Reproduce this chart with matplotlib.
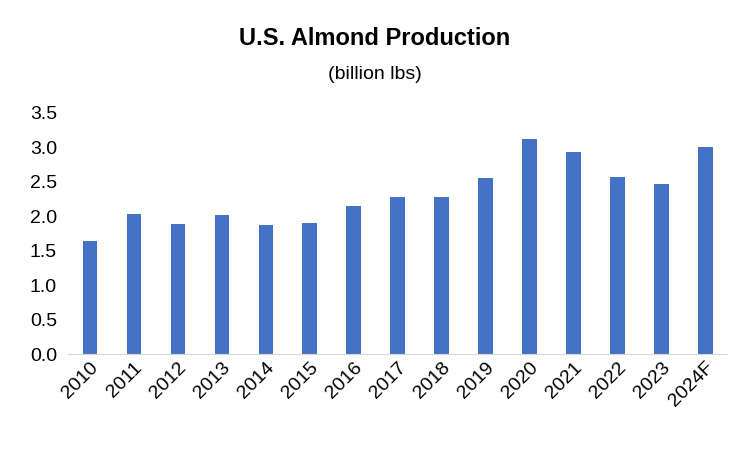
import numpy as np
import matplotlib.pyplot as plt

years = ['2010', '2011', '2012', '2013', '2014', '2015', '2016', '2017',
         '2018', '2019', '2020', '2021', '2022', '2023', '2024F']
production = [1.64, 2.03, 1.89, 2.01, 1.87, 1.90, 2.14, 2.27,
              2.28, 2.55, 3.12, 2.93, 2.57, 2.47, 3.00]

plt.rcParams['font.family'] = ['Liberation Sans', 'DejaVu Sans']

fig = plt.figure(figsize=(7.5, 4.5), dpi=100)
ax = fig.add_axes([0.0907, 0.213, 0.879, 0.537])
x = np.arange(len(years))
ax.bar(x, production, width=0.33, color='#4472C4')

ax.set_xlim(-0.5, len(years) - 0.5)
ax.set_ylim(0, 3.5)
ax.set_yticks(np.arange(0, 3.51, 0.5))
ax.set_yticklabels([f'{v:.1f}' for v in np.arange(0, 3.51, 0.5)], fontsize=14)
ax.set_xticks(x)
ax.set_xticklabels(years, rotation=45, ha='right', rotation_mode='anchor', fontsize=14)
ax.tick_params(axis='both', length=0)
ax.tick_params(axis='y', pad=8)
for s in ['top', 'right', 'left']:
    ax.spines[s].set_visible(False)
ax.spines['bottom'].set_color('#d9d9d9')

fig.text(0.5, 0.9, 'U.S. Almond Production', ha='center', fontsize=17, fontweight='bold')
fig.text(0.5, 0.825, '(billion lbs)', ha='center', fontsize=14)

fig.savefig('out.png', dpi=100)
